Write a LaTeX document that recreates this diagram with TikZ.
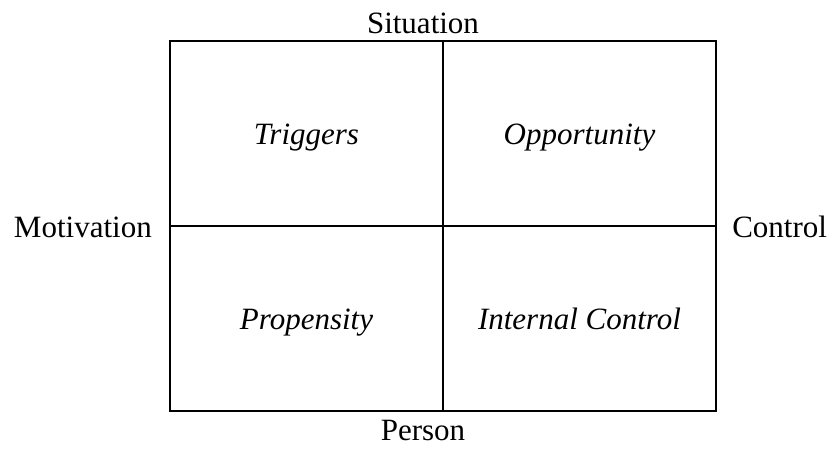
\documentclass[tikz,border=0pt]{standalone}
\usepackage{fontspec}
\setmainfont{Liberation Serif}
\usetikzlibrary{positioning}

\begin{document}
\begin{tikzpicture}[x=0.75pt,y=-0.75pt,
	lbl/.style={inner sep=0pt,font=\fontsize{23.25}{28}\selectfont},
	cell/.style={inner sep=0pt,font=\fontsize{23.25}{28}\selectfont\itshape}]
				\useasboundingbox (0,0) rectangle (833,450);
				\def\xl{170};
				\def\xm{443};
				\def\xr{716};
				\def\yt{41};
				\def\ym{226};
				\def\yb{411};
				\pgfmathsetmacro\cl{(\xl+\xm)/2};
				\pgfmathsetmacro\cr{(\xm+\xr)/2};
				\draw[line width=1.5pt] (\xl,\yt) rectangle (\xr,\yb);
				\draw[line width=1.5pt]
				(\xm,\yt) -- (\xm,\yb)
				(\xl,\ym) -- (\xr,\ym);
				% axis labels
				\node[lbl,anchor=base] (situation) at (423,33) {Situation};
				\node[lbl,anchor=base] (person) at (423,440) {Person};
				\node[lbl,anchor=base east] (motivation) at (152,237) {Motivation};
				\node[lbl,anchor=base west] (control) at (732,237) {Control};
				% cells
				\node[cell,anchor=base] (triggers) at (\cl,144) {Triggers};
				\node[cell,anchor=base] (opportunity) at (\cr,144) {Opportunity};
				\node[cell,anchor=base] (propensity) at (\cl,329) {Propensity};
				\node[cell,anchor=base] (internal) at (\cr,329) {Internal Control};
			\end{tikzpicture}
\end{document}
